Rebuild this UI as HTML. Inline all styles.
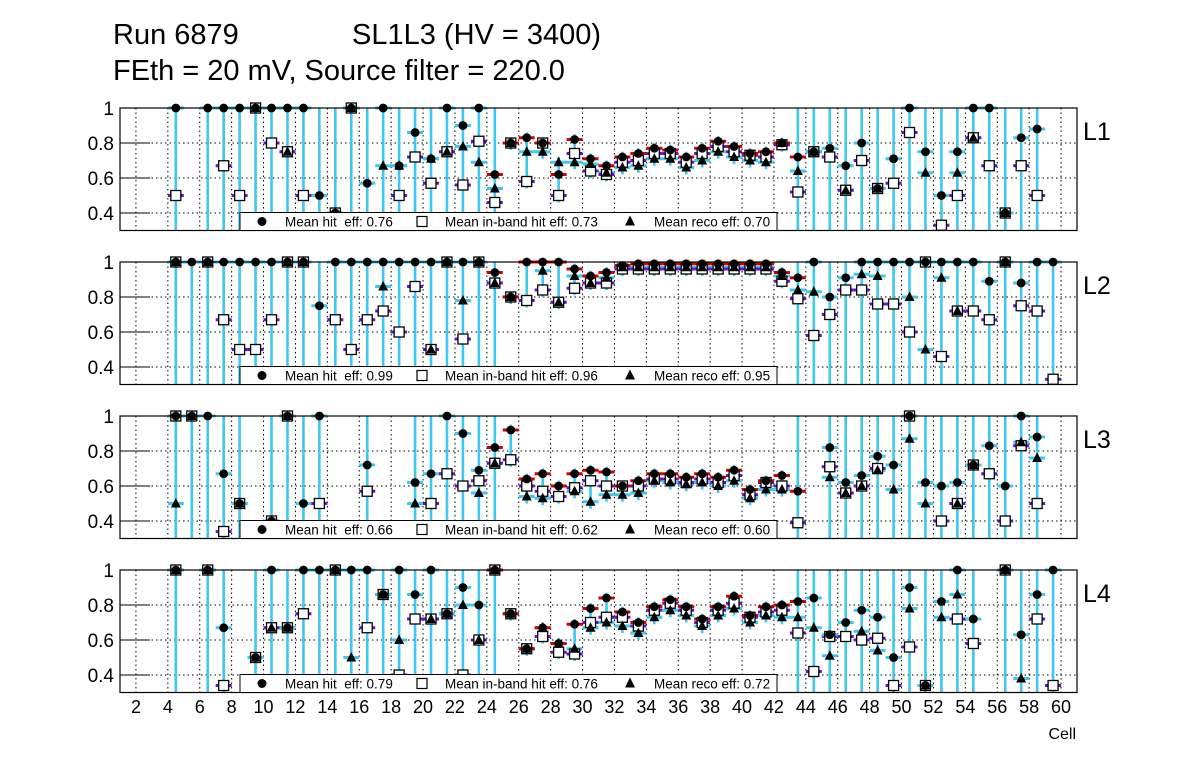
<!DOCTYPE html>
<html><head><meta charset="utf-8">
<style>
body{margin:0;background:#fff;}
svg{display:block;font-family:"Liberation Sans",sans-serif;}
</style></head>
<body>
<svg id="chart" width="1196" height="772" viewBox="0 0 1196 772" xmlns="http://www.w3.org/2000/svg">
<rect x="0" y="0" width="1196" height="772" fill="#fff"/>
<text x="113" y="44" font-size="29">Run 6879</text>
<text x="352" y="44" font-size="29">SL1L3 (HV = 3400)</text>
<text x="113" y="80" font-size="29">FEth = 20 mV, Source filter = 220.0</text>
<g id="plots"></g>
<text x="1076" y="739" font-size="16" text-anchor="end">Cell</text>
</svg>
<script>
const _ = null;
const layerNames = ["L1","L2","L3","L4"];
const meanHit = ["0.76","0.99","0.66","0.79"];
const meanInband = ["0.73","0.96","0.62","0.76"];
const meanReco = ["0.70","0.95","0.60","0.72"];
const yTicks = [0.4,0.6,0.8,1];
const yTickLabels = ["0.4","0.6","0.8","1"];
const xTicks = [2,4,6,8,10,12,14,16,18,20,22,24,26,28,30,32,34,36,38,40,42,44,46,48,50,52,54,56,58,60];

const hitL1 = [_,_,_,1,_,1,1,1,1,1, 1,1,.5,.4,1,.57,1,.67,.86,.71, 1,.9,1,.62,.8,.83,.8,.62,.82,.71, .67,.72,.74,.77,.76,.72,.77,.81,.78,.74, .75,.8,.72,.75,.77,.67,.8,.54,.71,1, .75,.5,.75,1,1,.4,.83,.88,_,_];
const inbL1 = [_,_,_,.5,_,_,.67,.5,1,.8, .75,.5,_,.4,1,_,_,.5,.72,.57, .75,.56,.81,.46,.8,.58,.8,.5,.74,.64, .62,.69,.7,.74,.74,.69,.74,.78,.75,.73, .72,.79,.52,.75,.72,.53,.7,.54,.57,.86, _,.33,.5,.83,.67,.4,.67,.5,_,_];
const recoL1 = [_,_,_,_,_,_,_,_,1,_, .75,_,_,.4,1,_,.67,.67,_,.71, .75,.78,.69,.54,.8,.75,.75,.69,.69,.68, .63,.66,.67,.71,.71,.66,.7,.75,.72,.7, .69,.8,.64,.75,_,.53,_,.54,_,_, .63,_,.63,.83,_,.4,_,_,_,_];

const hitL2 = [_,_,_,1,1,1,1,1,1,1, 1,1,.75,1,1,1,1,1,1,1, 1,1,1,.94,.8,1,1,1,.96,.92, .94,.98,.99,.99,.99,.99,.99,.99,.99,.99, .99,.94,.91,1,.8,.91,1,1,1,1, 1,1,1,1,.89,1,.88,1,1,_];
const inbL2 = [_,_,_,1,_,1,.67,.5,.5,.67, 1,1,_,.67,.5,.67,.72,.6,.86,.5, 1,.56,1,.88,.8,.78,.84,.77,.85,.88, .88,.96,.96,.96,.96,.96,.96,.96,.96,.96, .96,.89,.79,.58,.7,.84,.84,.76,.76,.6, 1,.46,.72,.72,.67,1,.75,.72,.33,_];
const recoL2 = [_,_,_,1,_,1,_,_,_,_, 1,1,_,_,_,_,.86,_,_,.5, 1,.78,1,.88,.8,_,.95,.77,.92,.88, .91,.97,.97,.97,.97,.97,.97,.97,.97,.97, .97,.92,.84,.83,_,_,.93,.92,_,.8, .5,.91,.72,_,_,1,_,_,_,_];

const hitL3 = [_,_,_,1,1,1,.67,.5,_,.4, 1,.5,1,_,_,.72,_,_,.62,.67, 1,.9,.69,.82,.92,.64,.67,.6,.67,.69, .68,.6,.63,.67,.67,.65,.67,.65,.69,.58, .63,.66,.57,_,.82,.62,.66,.77,.72,1, .62,.6,.62,.72,.83,.6,1,.88,_,_];
const inbL3 = [_,_,_,1,1,_,.34,.5,_,.4, 1,_,.5,_,_,.57,_,_,_,.5, .67,.6,.63,.73,.75,.6,.57,.54,.59,.63, .6,.6,.6,.64,.64,.62,.64,.62,.66,.55, .62,.6,.39,_,.71,.56,.6,.7,_,1, _,.4,.5,.72,.67,.4,.83,.5,_,_];
const recoL3 = [_,_,_,.5,1,_,_,.5,_,.4, 1,_,_,_,_,_,_,_,.5,_, _,_,.56,.73,_,.54,.53,_,.57,.51, .55,.55,.56,.63,.62,.61,.62,.6,.63,.53, .58,.58,_,_,.65,.56,.6,.69,.58,.87, .5,_,.5,.72,_,_,.85,.76,_,_];

const hitL4 = [_,_,_,1,_,1,.67,_,.5,1, .67,1,1,1,1,1,.86,1,.86,1, .75,.9,.8,1,.75,.55,.67,.58,.69,.78, .84,.76,.7,.79,.83,.79,.72,.79,.85,.74, .79,.8,.82,.84,.63,.7,.77,.73,.5,.9, .34,.82,1,.72,_,1,.63,.86,1,_];
const inbL4 = [_,_,_,1,_,1,.34,_,.5,.67, .67,.75,_,1,_,.67,.86,.4,.72,.72, .75,.4,.6,1,.75,.55,.62,.53,.52,.7, .73,.73,.68,.77,.81,.77,.7,.77,.81,.73, .76,.77,.64,.42,.62,.62,.6,.61,.34,.56, .34,_,.72,.58,_,1,_,.72,.34,_];
const recoL4 = [_,_,_,1,_,1,_,_,.5,.67, .67,_,_,1,.5,_,.86,.6,_,.72, .75,.8,.6,1,.75,.55,.67,.58,.55,.67, .7,.68,.64,.73,.77,.74,.68,.74,.78,.7, .74,.73,.73,.67,.51,_,.65,.54,_,.78, .34,.73,.86,_,_,1,.38,_,_,_];

const hitData = [hitL1,hitL2,hitL3,hitL4];
const inbData = [inbL1,inbL2,inbL3,inbL4];
const recoData = [recoL1,recoL2,recoL3,recoL4];

const NS = "http://www.w3.org/2000/svg";
const FL = 120, FR = 1077, XMIN = 1, XMAX = 61, YMIN = 0.3, YMAX = 1.0;
const PY = 175;
function xPos(v){ return FL + (v - XMIN) * (FR - FL) / (XMAX - XMIN); }
function panelTop(p){ return 108 + p * 154; }
function yPos(p, v){ return panelTop(p) + (YMAX - v) * PY; }
function mk(tag, attrs, parent){ const e = document.createElementNS(NS, tag); for (const k in attrs) e.setAttribute(k, attrs[k]); parent.appendChild(e); return e; }
function ok(v){ return v !== null && v >= YMIN - 1e-6 && v <= YMAX + 1e-6; }

const root = document.getElementById('plots');
const CYAN = "#3cc8f0", RED = "#d00000", PURPLE = "#6a10d0";

for (let p = 0; p < 4; p++) {
  const g = mk('g', {}, root);
  
  
  const top = panelTop(p), bot = yPos(p, YMIN);
  for (const t of xTicks) {
    const l = mk('line', {x1:xPos(t), x2:xPos(t), y1:top, y2:bot, stroke:"#000", 'stroke-width':1, 'stroke-dasharray':"1.5,3"}, g);
    
    
  }
  yTicks.forEach((t, i) => {
    const y = yPos(p, t);
    if (t < 1) {
      const gl = mk('line', {x1:FL, x2:FR, y1:y, y2:y, stroke:"#000", 'stroke-width':1, 'stroke-dasharray':"1.5,3"}, g);
      
      
    }
    const tk = mk('line', {x1:FL, x2:FL + 30, y1:y, y2:y, stroke:"#000", 'stroke-width':1}, g);
    
    
    const lb = mk('text', {x:114, y:y + 7, 'font-size':19, 'text-anchor':'end'}, g);
    
    
    lb.textContent = yTickLabels[i];
  });
  const hit = hitData[p], inb = inbData[p], reco = recoData[p];
  const gb = mk('g', {}, g);
  
  
  for (let c = 1; c <= 60; c++) {
    const vals = [hit[c-1], inb[c-1], reco[c-1]].filter(v => v !== null);
    if (!vals.length) continue;
    const xc = xPos(c + 0.5);
    let lo, hi;
    if (c >= 25 && c <= 42) { lo = Math.max(YMIN, Math.min(...vals) - 0.04); hi = Math.min(YMAX, Math.max(...vals) + 0.03); }
    else { lo = YMIN; hi = YMAX; }
    const vb = mk('line', {x1:xc, x2:xc, y1:yPos(p, hi), y2:yPos(p, lo), stroke:CYAN, 'stroke-width':2.6}, gb);
    
    
    const hb = [[reco[c-1], CYAN], [inb[c-1], PURPLE], [hit[c-1], (c >= 24 && c <= 43) ? RED : CYAN]];
    for (const [v, col] of hb) {
      if (!ok(v)) continue;
      const h = mk('line', {x1:xc - 8, x2:xc + 8, y1:yPos(p, v), y2:yPos(p, v), stroke:col, 'stroke-width':3}, gb);
      
      
    }
  }
  for (let c = 1; c <= 60; c++) {
    const xc = xPos(c + 0.5);
    const s = inb[c-1];
    if (ok(s)) {
      const r = mk('rect', {x:xc - 5, y:yPos(p, s) - 5, width:10, height:10, fill:"#fff", stroke:"#000", 'stroke-width':1.3}, g);
      
      
    }
  }
  for (let c = 1; c <= 60; c++) {
    const xc = xPos(c + 0.5);
    const h = hit[c-1];
    if (ok(h)) {
      const ci = mk('circle', {cx:xc, cy:yPos(p, h), r:4.4, fill:"#000"}, g);
      
      
    }
  }
  for (let c = 1; c <= 60; c++) {
    const xc = xPos(c + 0.5);
    const t = reco[c-1];
    if (ok(t)) {
      const y = yPos(p, t);
      const tr = mk('polygon', {points:`${xc},${y-5.5} ${xc-5},${y+4} ${xc+5},${y+4}`, fill:"#000"}, g);
      
      
    }
  }
  const fr = mk('rect', {x:FL, y:top, width:FR - FL, height:bot - top, fill:"none", stroke:"#000", 'stroke-width':1.2}, g);
  
  
  const lg = mk('g', {}, g);
  
  
  mk('rect', {x:240, y:bot - 18, width:537, height:18, fill:"#fff", stroke:"#000", 'stroke-width':1}, lg);
  const ly = bot - 9;
  mk('circle', {cx:262, cy:ly, r:4.5, fill:"#000"}, lg);
  mk('rect', {x:417, y:ly - 5, width:10, height:10, fill:"#fff", stroke:"#000", 'stroke-width':1.2}, lg);
  mk('polygon', {points:`630,${ly-6} 625,${ly+4} 635,${ly+4}`, fill:"#000"}, lg);
  const entries = [[285, "Mean hit  eff: " + meanHit[p], 'legend-entry-hit'], [445, "Mean in-band hit eff: " + meanInband[p], 'legend-entry-inband'], [654, "Mean reco eff: " + meanReco[p], 'legend-entry-reco']];
  for (const [x, txt, nm] of entries) {
    const t = mk('text', {x:x, y:ly + 5, 'font-size':13.5}, lg);
    
    
    t.style.whiteSpace = 'pre';
    t.textContent = txt;
  }
  const ll = mk('text', {x:1083, y:top + 32, 'font-size':25}, g);
  
  
  ll.textContent = layerNames[p];
}
for (const t of xTicks) {
  const lb = mk('text', {x:xPos(t), y:713, 'font-size':18, 'text-anchor':'middle'}, root);
  
  
  lb.textContent = String(t);
}
</script>
</body></html>
